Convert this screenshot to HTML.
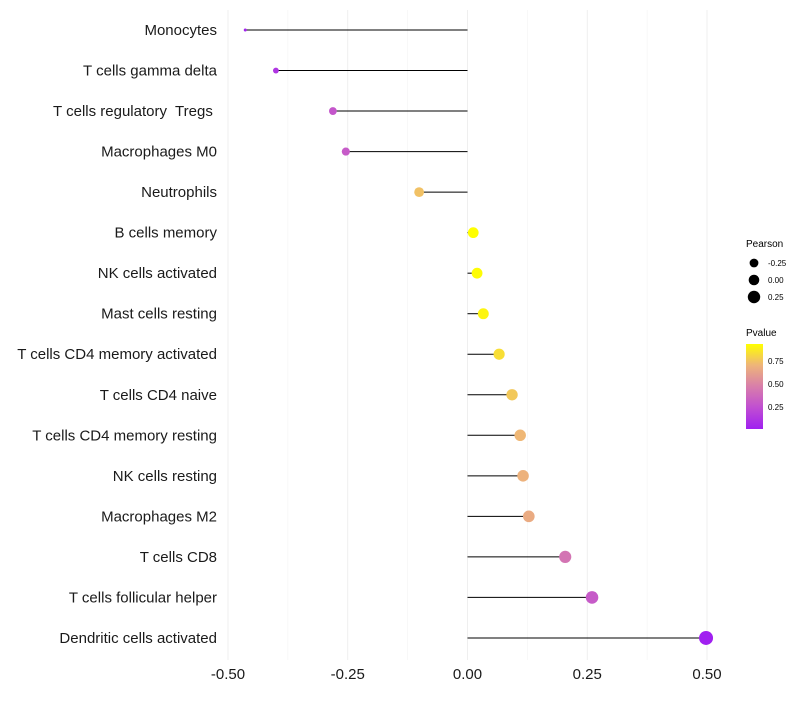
<!DOCTYPE html>
<html><head><meta charset="utf-8"><style>
body{margin:0;background:#fff;font-family:"Liberation Sans",sans-serif}
svg text{font-family:"Liberation Sans",sans-serif;white-space:pre}
</style></head><body>
<svg id="chart" width="800" height="700" xmlns="http://www.w3.org/2000/svg">
<defs><linearGradient id="pg" x1="0" y1="1" x2="0" y2="0">
<stop offset="0" stop-color="#A020F0"/><stop offset="0.25" stop-color="#C04ED2"/><stop offset="0.5" stop-color="#D87EAA"/><stop offset="0.75" stop-color="#EEB47A"/><stop offset="1" stop-color="#FFFF00"/></linearGradient></defs>
<g id="grid"></g><g id="marks"></g><g id="labels"></g>
<g>
<text x="746" y="247" font-size="10">Pearson</text>
<circle cx="754" cy="263" r="4.4" fill="#000"/>
<text x="768" y="266" font-size="8">-0.25</text>
<circle cx="754" cy="280" r="5.3" fill="#000"/>
<text x="768" y="283" font-size="8">0.00</text>
<circle cx="754" cy="297" r="6.2" fill="#000"/>
<text x="768" y="300" font-size="8">0.25</text>
<text x="746" y="336" font-size="10">Pvalue</text>
<rect x="746" y="344" width="17" height="85" fill="url(#pg)"/>
<text x="768" y="364" font-size="8">0.75</text>
<text x="768" y="387" font-size="8">0.50</text>
<text x="768" y="410" font-size="8">0.25</text>
</g>
</svg>
<script>
const categories=["Monocytes","T cells gamma delta","T cells regulatory  Tregs ","Macrophages M0","Neutrophils","B cells memory","NK cells activated","Mast cells resting","T cells CD4 memory activated","T cells CD4 naive","T cells CD4 memory resting","NK cells resting","Macrophages M2","T cells CD8","T cells follicular helper","Dendritic cells activated"];
const pearson=[-0.464,-0.40,-0.281,-0.254,-0.101,0.012,0.020,0.033,0.066,0.093,0.110,0.116,0.128,0.204,0.260,0.498];
const pvalue=[0.03,0.12,0.28,0.30,0.74,0.93,0.92,0.90,0.83,0.76,0.71,0.69,0.66,0.42,0.30,0.01];
const xTicks=[-0.5,-0.25,0,0.25,0.5];
const xTickLabels=["-0.50","-0.25","0.00","0.25","0.50"];
const NS="http://www.w3.org/2000/svg";
const xs=v=>467.5+v*479;
const ys=i=>30+i*40.53;
const rs=v=>1.5+5.5*Math.sqrt(Math.max(0,(v+0.464)/0.962));
const stops=[[0,[160,32,240]],[0.25,[192,78,210]],[0.5,[216,126,170]],[0.75,[238,180,122]],[1,[255,255,0]]];
function col(p){let t=(p-0.01)/(0.93-0.01);t=Math.max(0,Math.min(1,t));
for(let k=0;k<stops.length-1;k++){const a=stops[k],b=stops[k+1];if(t<=b[0]){const f=(t-a[0])/(b[0]-a[0]);return "rgb("+a[1].map((c,j)=>Math.round(c+(b[1][j]-c)*f)).join(",")+")";}}return "rgb(255,255,0)";}
function mk(tag,at,parent){const e=document.createElementNS(NS,tag);for(const k in at)e.setAttribute(k,at[k]);document.getElementById(parent).appendChild(e);return e;}
for(let i=0;i<9;i++){const v=-0.5+i*0.125;
const g=mk("line",{x1:xs(v),x2:xs(v),y1:10,y2:660,stroke:i%2?"#f4f4f4":"#ebebeb","stroke-width":i%2?0.6:0.8},"grid");

}
xTicks.forEach((v,i)=>{const t=mk("text",{x:xs(v),y:679,"font-size":15,"text-anchor":"middle",fill:"#1a1a1a"},"labels");t.textContent=xTickLabels[i];

});
categories.forEach((c,i)=>{const y=ys(i);
const t=mk("text",{x:217,y:y+5,"font-size":15,"text-anchor":"end",fill:"#1a1a1a"},"labels");t.textContent=c;


const l=mk("line",{x1:xs(0),x2:xs(pearson[i]),y1:y,y2:y,stroke:"#000","stroke-width":1},"marks");


const p=mk("circle",{cx:xs(pearson[i]),cy:y,r:rs(pearson[i]),fill:col(pvalue[i])},"marks");

});
</script>
</body></html>
